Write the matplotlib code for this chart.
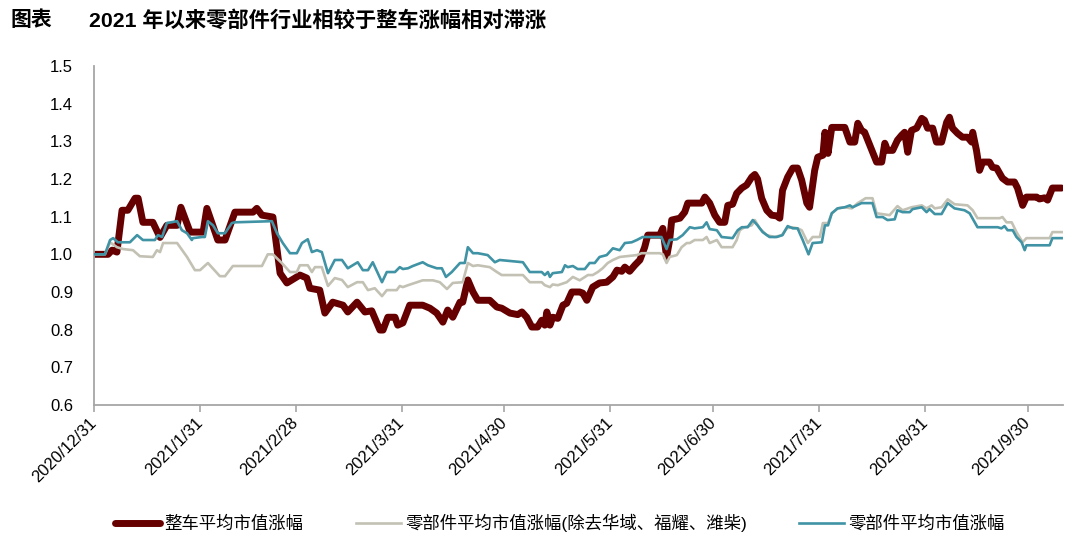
import matplotlib
matplotlib.use("Agg")
import matplotlib.pyplot as plt
import numpy as np
import pandas as pd

plt.rcParams['font.family'] = ['Liberation Sans', 'Noto Sans CJK SC', 'DejaVu Sans']

# ---------------- data (days since 2020-12-31, value) ----------------
start_date = "2020-12-31"

vehicle_days = [0, 4.1, 5.3, 6.7, 8.2, 9.9, 12.0, 12.9, 14.3, 17.2, 19.3, 21.3, 24.3, 25.4, 28.1, 31.9,
                33.0, 36.2, 38.3, 41.2, 46.5, 47.6, 49.1, 52.3, 54.4, 56.4, 60.2, 62.2, 63.1, 66.0, 67.5,
                69.8, 72.8, 74.2, 76.9, 79.2, 81.2, 83.6, 84.5, 85.9, 88.0, 88.8, 90.3, 92.3, 96.1, 98.2,
                100.2, 102.0, 103.4, 104.9, 107.0, 107.8, 109.3, 110.8, 112.2, 115.7, 117.8, 119.2, 121.6,
                123.9, 125.1, 126.5, 128.0, 129.7, 130.9, 131.8, 132.4, 133.3, 134.1, 135.6, 137.1, 138.2,
                139.7, 142.0, 142.9, 144.1, 145.8, 147.8, 149.9, 151.7, 152.9, 154.3, 155.2, 156.6, 158.1,
                159.6, 161.0, 161.9, 165.4, 166.3, 167.4, 168.3, 168.9, 171.3, 172.7, 173.6, 177.7, 178.6,
                180.0, 181.5, 182.9, 184.4, 185.3, 186.7, 187.9, 189.4, 190.8, 192.3, 193.2, 194.0, 195.2,
                196.7, 198.1, 199.6, 200.5, 201.3, 202.8, 204.3, 205.7, 206.9, 208.4, 209.2, 210.7, 211.6,
                213.1, 213.7, 214.6, 215.7, 219.5, 221.0, 222.4, 223.3, 224.4, 225.3, 226.8, 228.8, 230.3,
                231.2, 232.0, 233.5, 234.9, 236.1, 237.0, 237.9, 239.0, 240.5, 242.0, 242.8, 243.7, 245.2,
                246.3, 247.8, 249.3, 250.1, 251.0, 252.5, 253.9, 255.4, 256.6, 256.9, 258.0, 258.9, 259.8,
                261.8, 262.7, 263.9, 265.6, 267.1, 269.1, 270.0, 271.5, 272.6, 275.6, 276.4, 277.9, 278.8,
                280.2, 282.9]
vehicle_vals = [1.000, 1.000, 1.011, 1.006, 1.117, 1.117, 1.149, 1.149, 1.085, 1.085, 1.045, 1.077, 1.077,
                1.125, 1.059, 1.059, 1.122, 1.038, 1.038, 1.112, 1.112, 1.122, 1.104, 1.099, 0.950, 0.924,
                0.945, 0.937, 0.910, 0.905, 0.844, 0.873, 0.865, 0.847, 0.873, 0.847, 0.850, 0.799, 0.799,
                0.833, 0.833, 0.812, 0.818, 0.865, 0.865, 0.857, 0.844, 0.820, 0.852, 0.833, 0.873, 0.873,
                0.932, 0.900, 0.878, 0.878, 0.860, 0.857, 0.844, 0.840, 0.847, 0.833, 0.807, 0.807, 0.825,
                0.812, 0.847, 0.812, 0.833, 0.830, 0.865, 0.870, 0.900, 0.900, 0.897, 0.878, 0.913, 0.924,
                0.926, 0.940, 0.958, 0.955, 0.966, 0.955, 0.971, 0.985, 1.019, 1.051, 1.051, 1.069, 0.993,
                1.038, 1.091, 1.096, 1.112, 1.136, 1.136, 1.152, 1.136, 1.104, 1.085, 1.085, 1.130, 1.133,
                1.162, 1.176, 1.184, 1.205, 1.212, 1.200, 1.149, 1.117, 1.104, 1.102, 1.096, 1.170, 1.205,
                1.229, 1.229, 1.197, 1.136, 1.125, 1.223, 1.258, 1.263, 1.324, 1.268, 1.337, 1.337, 1.298,
                1.298, 1.348, 1.329, 1.324, 1.290, 1.245, 1.245, 1.295, 1.276, 1.276, 1.303, 1.316, 1.324,
                1.271, 1.329, 1.335, 1.361, 1.356, 1.335, 1.335, 1.298, 1.298, 1.351, 1.364, 1.335, 1.321,
                1.311, 1.311, 1.298, 1.324, 1.276, 1.223, 1.245, 1.245, 1.231, 1.229, 1.202, 1.192, 1.192,
                1.176, 1.130, 1.152, 1.152, 1.147, 1.150, 1.144, 1.176, 1.176]

parts_ex_days = [0, 3.2, 4.7, 6.7, 8.5, 11.4, 13.4, 17.2, 18.4, 19.3, 20.2, 24.3, 27.2, 29.5, 31.0, 33.3,
                 36.8, 38.3, 40.6, 49.1, 50.8, 52.3, 54.9, 57.3, 59.3, 60.2, 62.5, 63.7, 64.6, 66.6, 68.4,
                 70.4, 72.5, 74.2, 76.9, 78.6, 80.1, 82.1, 84.2, 85.6, 88.5, 89.4, 90.3, 91.8, 96.1, 99.1,
                 101.1, 103.2, 104.9, 107.8, 109.3, 110.8, 112.2, 115.7, 117.8, 119.2, 125.4, 127.4, 130.9,
                 131.8, 133.3, 134.1, 135.6, 138.2, 140.0, 141.1, 142.0, 144.4, 145.8, 147.3, 148.7, 150.2,
                 151.7, 153.7, 155.8, 158.7, 160.1, 165.4, 166.3, 167.4, 168.3, 170.4, 171.8, 173.3, 174.2,
                 175.6, 178.0, 179.1, 180.0, 182.1, 183.5, 186.7, 187.9, 188.8, 190.2, 192.3, 193.2, 194.6,
                 196.7, 199.0, 201.1, 202.5, 204.0, 205.7, 206.9, 208.7, 210.1, 212.2, 213.1, 214.6, 215.7,
                 217.4, 219.5, 221.5, 223.3, 224.7, 225.6, 227.6, 228.8, 232.6, 234.9, 236.4, 239.0, 242.0,
                 243.4, 244.9, 245.8, 247.8, 249.6, 251.6, 255.4, 256.9, 258.3, 264.8, 265.6, 266.8, 268.3,
                 269.7, 271.5, 272.6, 279.4, 280.2, 282.9]
parts_ex_vals = [1.000, 1.000, 1.032, 1.019, 1.014, 1.011, 0.995, 0.993, 1.011, 1.006, 1.030, 1.030, 0.993,
                 0.958, 0.958, 0.977, 0.942, 0.942, 0.969, 0.969, 1.000, 1.000, 0.977, 0.953, 0.953, 0.971,
                 0.971, 0.953, 0.966, 0.966, 0.916, 0.937, 0.932, 0.913, 0.926, 0.926, 0.905, 0.910, 0.889,
                 0.905, 0.905, 0.916, 0.913, 0.918, 0.931, 0.931, 0.926, 0.908, 0.924, 0.926, 0.977, 0.969,
                 0.971, 0.966, 0.953, 0.945, 0.945, 0.926, 0.926, 0.918, 0.913, 0.920, 0.918, 0.926, 0.940,
                 0.935, 0.931, 0.945, 0.945, 0.953, 0.963, 0.977, 0.985, 0.993, 0.995, 0.998, 1.003, 1.003,
                 1.000, 0.977, 0.993, 0.998, 1.019, 1.030, 1.030, 1.038, 1.038, 1.046, 1.030, 1.038, 1.019,
                 1.019, 1.038, 1.064, 1.072, 1.077, 1.091, 1.069, 1.051, 1.046, 1.051, 1.069, 1.072, 1.069,
                 1.064, 1.030, 1.046, 1.046, 1.083, 1.083, 1.109, 1.122, 1.125, 1.122, 1.136, 1.144, 1.149,
                 1.149, 1.109, 1.104, 1.128, 1.117, 1.125, 1.130, 1.122, 1.130, 1.122, 1.125, 1.146, 1.133,
                 1.130, 1.117, 1.096, 1.096, 1.099, 1.085, 1.085, 1.059, 1.032, 1.043, 1.043, 1.059, 1.059]

parts_days = [0, 3.2, 4.7, 5.6, 7.0, 10.5, 12.6, 14.3, 17.8, 18.7, 19.9, 21.3, 24.3, 25.7, 27.2, 28.6, 28.9,
              31.6, 32.4, 33.3, 34.8, 36.2, 38.3, 40.3, 41.2, 52.0, 53.5, 55.2, 57.3, 59.3, 60.8, 62.5,
              63.7, 65.2, 66.6, 68.4, 70.4, 72.5, 74.2, 77.1, 78.6, 80.1, 81.5, 84.2, 85.6, 88.0, 89.4,
              90.3, 91.8, 93.2, 96.1, 97.6, 100.2, 101.7, 102.9, 104.6, 107.0, 108.4, 109.3, 110.8, 112.2,
              115.1, 117.2, 118.6, 125.4, 127.4, 130.9, 131.8, 132.7, 133.3, 134.1, 136.8, 137.7, 138.5,
              140.0, 141.4, 143.5, 144.9, 146.4, 147.8, 149.9, 151.7, 153.7, 155.2, 157.2, 158.7, 160.4,
              165.9, 167.4, 168.3, 170.4, 172.1, 174.2, 175.6, 178.0, 179.1, 180.0, 182.1, 183.5, 186.7,
              188.2, 189.4, 191.1, 192.6, 194.0, 195.5, 197.5, 199.6, 201.3, 202.8, 204.3, 205.7, 207.2,
              208.9, 210.1, 212.8, 213.7, 214.6, 215.7, 217.4, 219.5, 221.0, 221.8, 224.4, 227.6, 228.8,
              230.6, 232.0, 234.1, 234.9, 236.4, 238.5, 239.3, 242.0, 243.4, 244.3, 245.8, 247.8, 249.6,
              251.6, 254.5, 256.0, 258.3, 264.2, 265.3, 266.2, 267.1, 268.6, 269.7, 271.2, 272.1, 272.6,
              279.4, 280.2, 282.9]
parts_vals = [1.000, 1.000, 1.038, 1.043, 1.032, 1.032, 1.051, 1.038, 1.038, 1.051, 1.046, 1.083, 1.088,
              1.064, 1.056, 1.038, 1.043, 1.046, 1.046, 1.088, 1.077, 1.056, 1.056, 1.083, 1.085, 1.088,
              1.056, 1.030, 1.003, 1.003, 1.030, 1.040, 1.006, 1.011, 1.006, 0.950, 0.985, 0.985, 0.963,
              0.979, 0.958, 0.958, 0.979, 0.926, 0.953, 0.953, 0.966, 0.961, 0.963, 0.969, 0.979, 0.971,
              0.963, 0.963, 0.940, 0.953, 0.977, 0.977, 1.019, 1.003, 1.003, 0.998, 0.979, 0.985, 0.979,
              0.953, 0.953, 0.945, 0.953, 0.940, 0.950, 0.953, 0.971, 0.966, 0.969, 0.961, 0.961, 0.977,
              0.977, 0.993, 0.998, 1.016, 1.011, 1.030, 1.032, 1.038, 1.046, 1.046, 1.014, 1.038, 1.040,
              1.051, 1.072, 1.069, 1.072, 1.085, 1.067, 1.064, 1.046, 1.043, 1.064, 1.072, 1.072, 1.091,
              1.077, 1.059, 1.046, 1.046, 1.051, 1.075, 1.069, 1.069, 1.038, 1.000, 1.030, 1.032, 1.077,
              1.077, 1.109, 1.122, 1.125, 1.130, 1.125, 1.136, 1.136, 1.099, 1.099, 1.091, 1.093, 1.117,
              1.112, 1.112, 1.120, 1.125, 1.112, 1.120, 1.107, 1.107, 1.136, 1.122, 1.117, 1.109, 1.072,
              1.072, 1.069, 1.075, 1.064, 1.064, 1.046, 1.032, 1.011, 1.024, 1.024, 1.043, 1.043]

tick_labels = ["2020/12/31", "2021/1/31", "2021/2/28", "2021/3/31", "2021/4/30",
               "2021/5/31", "2021/6/30", "2021/7/31", "2021/8/31", "2021/9/30"]
y_ticks = [0.6, 0.7, 0.8, 0.9, 1.0, 1.1, 1.2, 1.3, 1.4, 1.5]
end_days = 283.3

series_names = ["整车平均市值涨幅", "零部件平均市值涨幅(除去华域、福耀、潍柴)", "零部件平均市值涨幅"]
title_left = "图表"
title_main = "2021 年以来零部件行业相较于整车涨幅相对滞涨"

# ---------------- plot ----------------
base = pd.Timestamp(start_date)
def to_dates(days):
    return base + pd.to_timedelta(np.asarray(days, dtype=float), unit="D")

fig = plt.figure(figsize=(10.8, 5.56), dpi=100)
ax = fig.add_axes([94/1080, 1-405/556, (1063-94)/1080, (405-66)/556])

c_vehicle = "#660000"
c_parts_ex = "#c3c1b3"
c_parts = "#3f93a4"

l1, = ax.plot(to_dates(vehicle_days), vehicle_vals, color=c_vehicle, lw=5.0,
              solid_joinstyle="round", solid_capstyle="round", label=series_names[0], zorder=2)
l2, = ax.plot(to_dates(parts_ex_days), parts_ex_vals, color=c_parts_ex, lw=1.9,
              label=series_names[1], zorder=3)
l3, = ax.plot(to_dates(parts_days), parts_vals, color=c_parts, lw=1.9,
              label=series_names[2], zorder=4)

ax.set_ylim(0.6, 1.5)
ax.set_yticks(y_ticks)
ax.set_yticklabels([f"{v:.1f}" for v in y_ticks], fontsize=12)
ax.tick_params(axis="y", length=0, pad=15)

tick_pos = pd.to_datetime(tick_labels, format="%Y/%m/%d")
ax.set_xlim(base, base + pd.Timedelta(days=end_days))
ax.set_xticks(tick_pos)
ax.set_xticklabels(tick_labels, rotation=45, ha="right", va="center",
                   rotation_mode="anchor", fontsize=12)
ax.tick_params(axis="x", length=5, width=1.2, color="#a6a6a6", pad=6)

for s in ["top", "right"]:
    ax.spines[s].set_visible(False)
for s in ["left", "bottom"]:
    ax.spines[s].set_color("#a6a6a6")
    ax.spines[s].set_linewidth(1.3)

fig.text(10/1080, 1-20/556, title_left, fontsize=15, fontweight="bold", va="center", ha="left")
fig.text(89/1080, 1-20/556, title_main, fontsize=15.3, fontweight="bold", va="center", ha="left")

fig.legend(handles=[l1, l2, l3], loc="center", bbox_to_anchor=(560/1080, 1-523/556),
           ncol=3, frameon=False, fontsize=12.5, handlelength=2.6, handletextpad=0.25,
           columnspacing=3.0)

fig.savefig("out.png", dpi=100)
